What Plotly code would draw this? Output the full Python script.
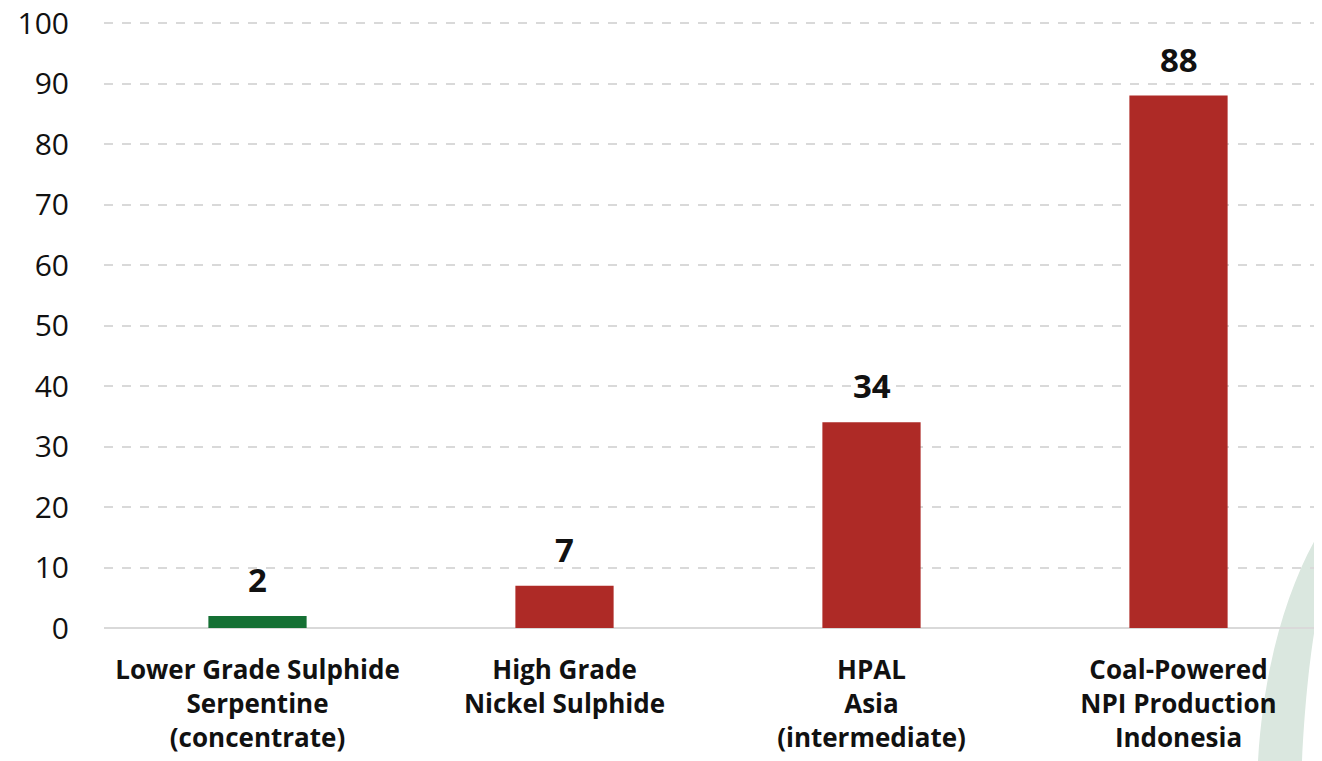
import plotly.graph_objects as go

categories = ["Lower Grade Sulphide<br>Serpentine<br>(concentrate)",
              "High Grade<br>Nickel Sulphide",
              "HPAL<br>Asia<br>(intermediate)",
              "Coal-Powered<br>NPI Production<br>Indonesia"]
values = [2, 7, 34, 88]
bar_colors = ["#157034", "#AE2A26", "#AE2A26", "#AE2A26"]
y_ticks = list(range(0, 101, 10))

OFF = 8  # page body margin
W, H = 1322 - OFF, 761 - OFF
ML, MR, MT = 104 - OFF, 0, 20 - OFF
MB = H - (628 - OFF)
pw, ph = W - ML - MR, H - MT - MB
CAT_PX = 307.0
x_end = -0.5 + pw / CAT_PX

def px(x):
    return (x - OFF - ML) / pw

def py(y):
    return (H - MB - (y - OFF)) / ph

fig = go.Figure()
fig.add_trace(go.Bar(
    x=list(range(len(categories))), y=values, marker_color=bar_colors,
    width=0.32, marker_line_width=0, showlegend=False, hoverinfo="skip"))

for i, v in enumerate(values):
    fig.add_annotation(x=i, y=v, text=f"<b>{v}</b>", showarrow=False,
                       yanchor="bottom", yshift=12,
                       font=dict(family="Open Sans", size=33, color="#111111"))

# decorative arc (background)
pts_outer = [(1322, 528), (1290, 580), (1264, 660), (1258, 761)]
pts_inner = [(1302, 761), (1306, 680), (1314, 625), (1322, 592)]
path = f"M {px(pts_outer[0][0])},{py(pts_outer[0][1])} "
path += f"C {px(pts_outer[1][0])},{py(pts_outer[1][1])} {px(pts_outer[2][0])},{py(pts_outer[2][1])} {px(pts_outer[3][0])},{py(pts_outer[3][1])} "
path += f"L {px(pts_inner[0][0])},{py(pts_inner[0][1])} "
path += f"C {px(pts_inner[1][0])},{py(pts_inner[1][1])} {px(pts_inner[2][0])},{py(pts_inner[2][1])} {px(pts_inner[3][0])},{py(pts_inner[3][1])} Z"
fig.add_shape(type="path", xref="paper", yref="paper", path=path,
              fillcolor="#DAE7DF", line_width=0, layer="below")

fig.update_layout(
    width=W, height=H,
    margin=dict(l=ML, r=MR, t=MT, b=MB, autoexpand=False),
    plot_bgcolor="rgba(0,0,0,0)", paper_bgcolor="white",
    font=dict(family="Open Sans", color="#111111"),
    xaxis=dict(tickmode="array", tickvals=list(range(len(categories))),
               ticktext=[f"<b>{c}</b>" for c in categories],
               range=[-0.5, x_end], showgrid=False, zeroline=False,
               showline=False, ticks="", ticklabelstandoff=24, automargin=False,
               tickfont=dict(family="Open Sans", size=26, color="#111111")),
    yaxis=dict(range=[0, 100.5], tickvals=y_ticks, showgrid=True,
               gridcolor="#D9D9D9", griddash="dash", gridwidth=1.5,
               zeroline=True, zerolinecolor="#D9D9D9", zerolinewidth=1.5,
               showline=False, ticks="", ticklabelstandoff=34, automargin=False,
               ticklabeloverflow="allow",
               tickfont=dict(family="Open Sans", size=30, color="#111111")),
)

fig.write_html("out.html")
